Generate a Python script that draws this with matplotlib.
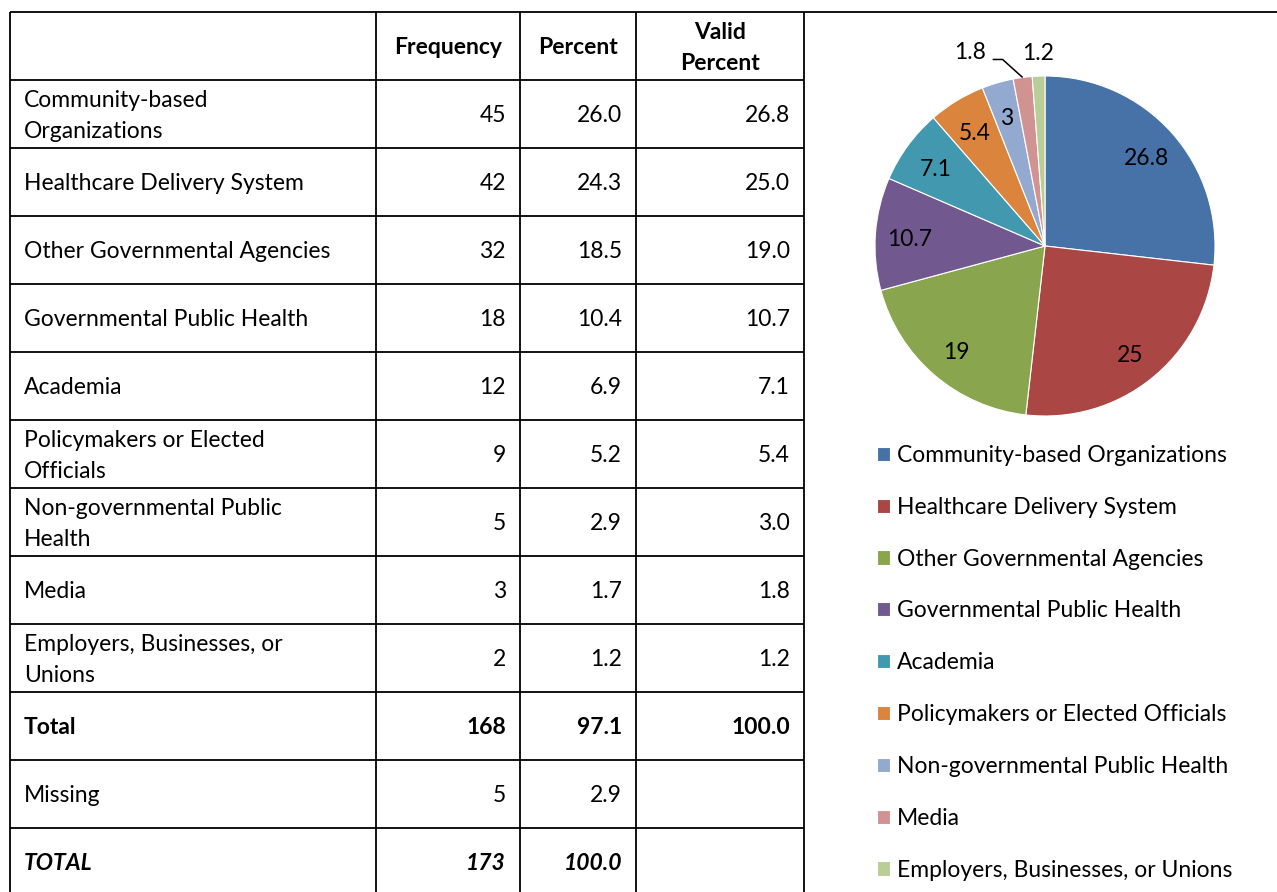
import matplotlib
matplotlib.use("Agg")
import matplotlib.pyplot as plt
import numpy as np

plt.rcParams['font.family'] = ['Lato', 'DejaVu Sans']

categories = ["Community-based\nOrganizations", "Healthcare Delivery System",
              "Other Governmental Agencies", "Governmental Public Health", "Academia",
              "Policymakers or Elected\nOfficials", "Non-governmental Public\nHealth",
              "Media", "Employers, Businesses, or\nUnions"]
legend_labels = ["Community-based Organizations", "Healthcare Delivery System",
                 "Other Governmental Agencies", "Governmental Public Health", "Academia",
                 "Policymakers or Elected Officials", "Non-governmental Public Health",
                 "Media", "Employers, Businesses, or Unions"]
frequency = [45, 42, 32, 18, 12, 9, 5, 3, 2]
percent = [26.0, 24.3, 18.5, 10.4, 6.9, 5.2, 2.9, 1.7, 1.2]
valid_percent = [26.8, 25.0, 19.0, 10.7, 7.1, 5.4, 3.0, 1.8, 1.2]
total_row = ["Total", "168", "97.1", "100.0"]
missing_row = ["Missing", "5", "2.9", ""]
grand_total_row = ["TOTAL", "173", "100.0", ""]
headers = ["", "Frequency", "Percent", "Valid\nPercent"]
pie_values = [26.8, 25, 19, 10.7, 7.1, 5.4, 3, 1.8, 1.2]
colors = ["#4672A8", "#AA4643", "#89A54E", "#71588F", "#4198AF",
          "#DB843D", "#93A9CF", "#D19392", "#B9CD96"]

W, H = 1277, 892
fig = plt.figure(figsize=(W / 100, H / 100), dpi=100)
bg = fig.add_axes([0, 0, 1, 1])
bg.set_xlim(0, W)
bg.set_ylim(H, 0)
bg.axis("off")

# table geometry
col_x = [10, 376, 520, 636, 804]
row_h = 68
top = 12
n_rows = 1 + len(categories) + 3
lw = 1.3
bg.plot([col_x[0], W], [top, top], color="black", lw=lw, solid_capstyle="butt")
for i in range(1, n_rows + 1):
    y = top + i * row_h
    bg.plot([col_x[0], col_x[-1]], [y, y], color="black", lw=lw, solid_capstyle="butt")
for x in col_x:
    bg.plot([x, x], [top, top + n_rows * row_h], color="black", lw=lw, solid_capstyle="butt")

fs = 16.5
pad_l = 14
pad_r = 14
ls = 1.6

def row_center(i):
    return top + i * row_h + row_h / 2 + 2

for j in range(1, 4):
    bg.text((col_x[j] + col_x[j + 1]) / 2, row_center(0), headers[j], ha="center",
            va="center", fontsize=fs, fontweight="bold", linespacing=ls)

rows = []
for c, f, p, v in zip(categories, frequency, percent, valid_percent):
    rows.append(([c, str(f), f"{p:.1f}", f"{v:.1f}"], "normal", "normal"))
rows.append((total_row, "bold", "normal"))
rows.append((missing_row, "normal", "normal"))
rows.append((grand_total_row, "bold", "italic"))

for i, (vals, weight, style) in enumerate(rows, start=1):
    yc = row_center(i)
    bg.text(col_x[0] + pad_l, yc, vals[0], ha="left", va="center", fontsize=fs,
            fontweight=weight, fontstyle=style, linespacing=ls)
    for j in range(1, 4):
        bg.text(col_x[j + 1] - pad_r, yc, vals[j], ha="right", va="center", fontsize=fs,
                fontweight=weight, fontstyle=style)

# pie
cx, cy, r = 1045, 246, 170
pax = fig.add_axes([(cx - r) / W, (H - cy - r) / H, 2 * r / W, 2 * r / H])
wedges, _ = pax.pie(pie_values, colors=colors, startangle=90, counterclock=False,
                    radius=1, wedgeprops=dict(edgecolor="white", linewidth=0.8))
pax.set_xlim(-1, 1)
pax.set_ylim(-1, 1)
pax.set_aspect("equal")
pax.axis("off")

px = 1.0 / r  # one pixel in pie data units
for k, (w, v) in enumerate(zip(wedges, pie_values)):
    ang = np.deg2rad((w.theta1 + w.theta2) / 2)
    lab = f"{v:g}"
    if v >= 2.5:
        rr = 0.8
        pax.text(rr * np.cos(ang), rr * np.sin(ang) - 0.02, lab, ha="center", va="center",
                 fontsize=fs)
    elif k == 7:
        ex, ey = np.cos(ang), np.sin(ang)
        xs = [ex, ex - 20 * px, ex - 30 * px]
        ys = [ey, ey + 18 * px, ey + 18 * px]
        pax.plot(xs, ys, color="black", lw=1.1, clip_on=False, solid_capstyle="butt")
        pax.text(ex - 53 * px, ey + 25 * px, lab, ha="center", va="center", fontsize=fs)
    else:
        rr = 1.135
        pax.text(rr * np.cos(ang), rr * np.sin(ang), lab, ha="center", va="center",
                 fontsize=fs)

leg = fig.legend(wedges, legend_labels, loc="upper left",
                 bbox_to_anchor=(877 / W, (H - 445) / H), frameon=False,
                 fontsize=fs, handlelength=0.57, handleheight=0.57,
                 handletextpad=0.3, labelspacing=1.345, borderpad=0, borderaxespad=0)

fig.savefig("out.png", dpi=100)
